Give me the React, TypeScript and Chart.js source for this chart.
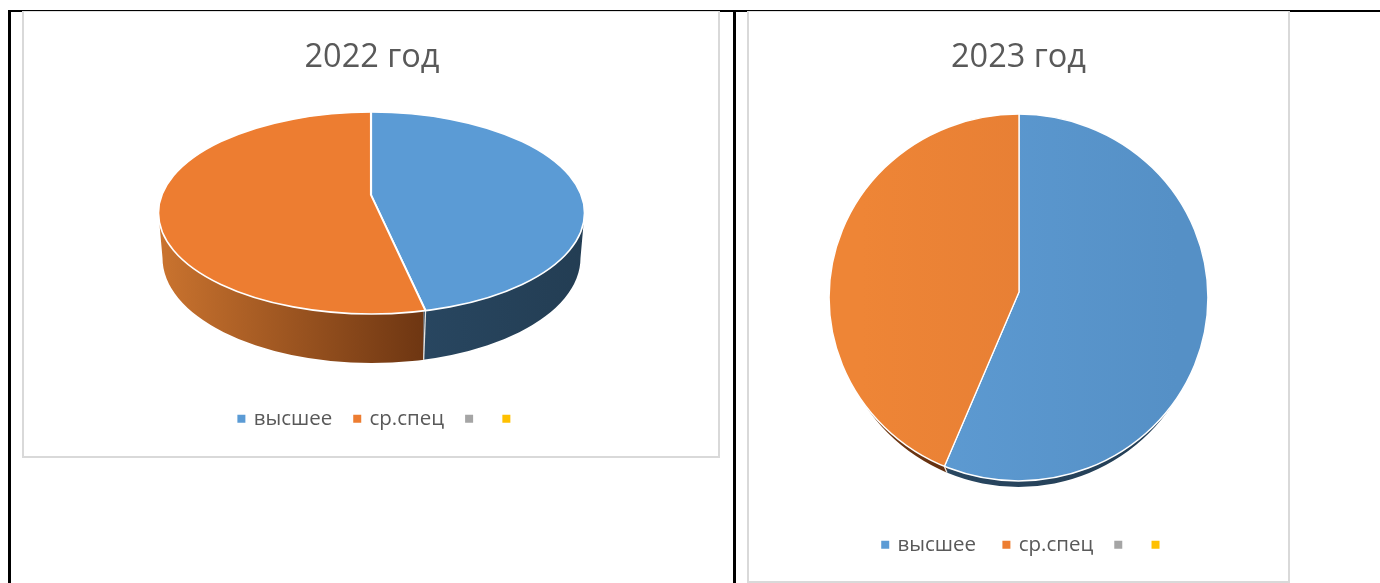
import React, { useEffect, useRef } from "react";
import { Chart, registerables } from "chart.js";

Chart.register(...registerables);

const categories = ["высшее", "ср.спец", "", ""];
const values2022 = [46.5, 53.5, 0, 0];
const values2023 = [56.25, 43.75, 0, 0];
const title2022 = "2022 год";
const title2023 = "2023 год";
const legendColors = ["#5b9bd5", "#ed7d31", "#a5a5a5", "#ffc000"];

type Shape = {
  box: { left: number; top: number; width: number; height: number };
  apex: [number, number];
  top: [number, number, number, number];
  bottom: [number, number, number, number];
  wallOrange: string[];
  wallBlue: string[];
  faceBlue: string[];
  faceOrange: string[];
  legendPad: number;
  legendShift: number;
  firstLabelGap: string;
  titleShift: number;
};

const shape2022: Shape = {
  box: { left: 22, top: 11, width: 698, height: 447 },
  apex: [371, 195],
  top: [371.5, 213, 213, 101],
  bottom: [371.5, 258, 209, 105],
  wallOrange: ["#cb742f", "#6e3612"],
  wallBlue: ["#284660", "#233d53"],
  faceBlue: ["#5b9bd5", "#5b9bd5"],
  faceOrange: ["#ed7d31", "#ed7d31"],
  legendPad: 18,
  legendShift: 8,
  firstLabelGap: "",
  titleShift: 1,
};

const shape2023: Shape = {
  box: { left: 747, top: 11, width: 543, height: 572 },
  apex: [1019, 292],
  top: [1018.5, 297.5, 189.5, 183.5],
  bottom: [1018.5, 303.5, 184.4, 183.5],
  wallOrange: ["#7a3f16", "#643010"],
  wallBlue: ["#284660", "#233d53"],
  faceBlue: ["#5f9dd5", "#5590c6"],
  faceOrange: ["#ee8536", "#e27a33"],
  legendPad: 17,
  legendShift: 7,
  firstLabelGap: "\u00a0",
  titleShift: 0,
};

function rayHit(s: Shape, angle: number): [number, number] {
  // angle is in the pie's own space: the ray leaves the apex and meets the rim
  const [cx, cy, rx, ry] = s.top;
  const dx = Math.cos(angle) * rx;
  const dy = Math.sin(angle) * ry;
  const ox = s.apex[0] - cx;
  const oy = s.apex[1] - cy;
  const a = (dx * dx) / (rx * rx) + (dy * dy) / (ry * ry);
  const b = 2 * ((ox * dx) / (rx * rx) + (oy * dy) / (ry * ry));
  const c = (ox * ox) / (rx * rx) + (oy * oy) / (ry * ry) - 1;
  const t = (-b + Math.sqrt(b * b - 4 * a * c)) / (2 * a);
  return [s.apex[0] + dx * t, s.apex[1] + dy * t];
}

function makePiePlugin(s: Shape) {
  return {
    id: "tiltedPie",
    afterLayout(chart: any) {
      chart.legend.left += s.legendShift;
      chart.legend.right += s.legendShift;
      chart.titleBlock.left += s.titleShift;
      chart.titleBlock.right += s.titleShift;
    },
    beforeDatasetsDraw(chart: any) {
      const ctx: CanvasRenderingContext2D = chart.ctx;
      const ox = s.box.left + 1;
      const oy = s.box.top + 1;
      const arcs = chart.getDatasetMeta(0).data;
      const first = arcs[0];
      const [cx, cy, rx, ry] = s.top;
      const [bx, by, brx, bry] = s.bottom;
      const seam = rayHit(s, first.endAngle);
      const seamBottomX = seam[0] - (seam[0] - bx) * 0.035;
      const seamBottomY = by + bry * Math.sqrt(Math.max(0, 1 - ((seamBottomX - bx) / brx) ** 2));

      ctx.save();
      ctx.translate(-ox, -oy);

      // side wall
      const wall = (x0: number, x1: number, colors: string[]) => {
        ctx.save();
        ctx.beginPath();
        ctx.rect(x0, cy, x1 - x0, by + bry - cy + 4);
        ctx.clip();
        ctx.beginPath();
        ctx.moveTo(cx - rx, cy);
        ctx.lineTo(bx - brx, by);
        ctx.ellipse(bx, by, brx, bry, 0, Math.PI, 0, true);
        ctx.lineTo(cx + rx, cy);
        ctx.closePath();
        const g = ctx.createLinearGradient(x0, 0, x1, 0);
        g.addColorStop(0, colors[0]);
        g.addColorStop(1, colors[1]);
        ctx.fillStyle = g;
        ctx.fill();
        ctx.restore();
      };
      wall(cx - rx - 2, seamBottomX, s.wallOrange);
      wall(seamBottomX, cx + rx + 2, s.wallBlue);
      ctx.beginPath();
      ctx.moveTo(seam[0], seam[1]);
      ctx.lineTo(seamBottomX, seamBottomY);
      ctx.strokeStyle = "#e8e4e0";
      ctx.lineWidth = 1.3;
      ctx.stroke();

      // top face: the library's arc elements, mapped onto the ellipse
      const R = first.outerRadius;
      const sx = (rx * 1.35) / R;
      const sy = (ry * 1.35) / R;
      ctx.save();
      ctx.beginPath();
      ctx.ellipse(cx, cy, rx, ry, 0, 0, Math.PI * 2);
      ctx.clip();
      ctx.translate(s.apex[0], s.apex[1]);
      ctx.scale(sx, sy);
      ctx.translate(-first.x, -first.y);
      arcs.forEach((a: any) => a.draw(ctx));
      ctx.restore();

      // white rim
      ctx.beginPath();
      ctx.ellipse(cx, cy, rx, ry, 0, 0, Math.PI * 2);
      ctx.strokeStyle = "#ffffff";
      ctx.lineWidth = 1.6;
      ctx.stroke();

      ctx.restore();
      return false;
    },
  };
}

function PieBox({ shape, title, values }: { shape: Shape; title: string; values: number[] }) {
  const ref = useRef<HTMLCanvasElement>(null);
  useEffect(() => {
    const canvas = ref.current;
    if (!canvas) return;
    const font = '"Open Sans", sans-serif';
    const faceFill = (c: any) => {
      const i = c.dataIndex;
      if (i > 1) return legendColors[i];
      const colors = i === 0 ? shape.faceBlue : shape.faceOrange;
      const g = c.chart.ctx.createLinearGradient(c.chart.width / 2 - 130, 0, c.chart.width / 2 + 130, 0);
      g.addColorStop(0, colors[0]);
      g.addColorStop(1, colors[1]);
      return g;
    };
    const chart = new Chart(canvas, {
      type: "pie",
      data: {
        labels: categories,
        datasets: [
          {
            data: values,
            backgroundColor: faceFill,
            borderColor: "#ffffff",
            borderWidth: 1.1,
          },
        ],
      },
      options: {
        responsive: false,
        animation: false,
        layout: { padding: { bottom: shape.legendPad } },
        plugins: {
          tooltip: { enabled: false },
          title: {
            display: true,
            text: title,
            color: "#595959",
            font: { family: font, size: 32.5, weight: "normal" },
            padding: { top: 26, bottom: 11 },
          },
          legend: {
            position: "bottom",
            labels: {
              color: "#595959",
              font: { family: font, size: 20.5 },
              boxWidth: 4,
              boxHeight: 4,
              padding: 23,
              generateLabels: () =>
                categories.map((text, i) => ({
                  text: i === 0 ? text + shape.firstLabelGap : text,
                  fontColor: "#595959",
                  fillStyle: legendColors[i],
                  strokeStyle: legendColors[i],
                  lineWidth: 4,
                  hidden: false,
                  index: i,
                })),
            },
          },
        },
      },
      plugins: [makePiePlugin(shape)],
    } as any);
    return () => chart.destroy();
  }, [shape, title, values]);
  const { left, top, width, height } = shape.box;
  return (
    <div
      style={{
        position: "absolute",
        left,
        top,
        width,
        height,
        boxSizing: "border-box",
        background: "#fff",
        border: "2px solid #d9d9d9",
        borderTopColor: "#e0e0e0",
        borderTopWidth: 1,
      }}
    >
      <canvas
        ref={ref}
        width={width - 2}
        height={height - 2}
        style={{ position: "absolute", left: -1, top: 0, width: width - 2, height: height - 2 }}
      />
    </div>
  );
}

const rule = (left: number, top: number, width: number, height: number) => (
  <div style={{ position: "absolute", left, top, width, height, background: "#000" }} />
);

export default function App() {
  return (
    <div style={{ position: "fixed", left: 0, top: 0, width: 1380, height: 583, overflow: "hidden", background: "#fff" }}>
      {rule(8, 10, 1372, 2)}
      {rule(8, 10, 3, 573)}
      {rule(733, 10, 3, 573)}
      <PieBox shape={shape2022} title={title2022} values={values2022} />
      <PieBox shape={shape2023} title={title2023} values={values2023} />
    </div>
  );
}
